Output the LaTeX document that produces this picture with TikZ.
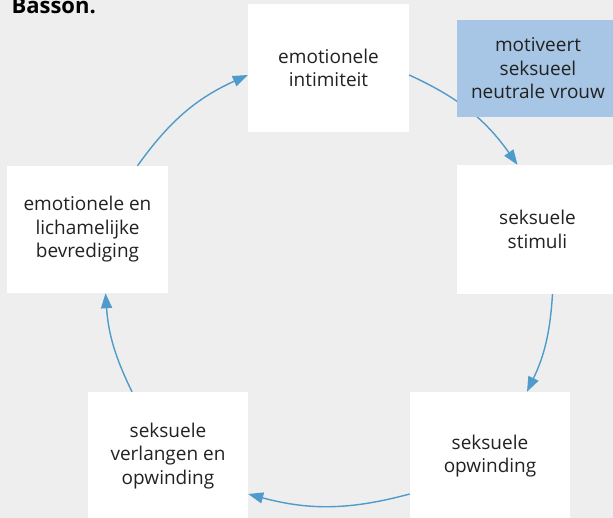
\documentclass[tikz,border=0pt]{standalone}
\usepackage{fontspec}
\setmainfont{Open Sans}
\usetikzlibrary{arrows.meta}
\definecolor{bg}{HTML}{EEEEEE}
\definecolor{arrowblue}{HTML}{4F9BCB}
\definecolor{boxblue}{HTML}{A7C5E4}
\definecolor{txt}{HTML}{222222}
\tikzset{
  box/.style={fill=white, draw=none, align=center, text=txt, inner sep=0pt,
    font=\fontsize{19}{23.5}\selectfont},
  bluebox/.style={box, fill=boxblue},
  arr/.style={draw=arrowblue, line width=1.4pt,
    -{Triangle[length=15pt, width=11pt]}},
}
\begin{document}
\begin{tikzpicture}[x=1pt, y=-1pt]
\useasboundingbox (0,0) rectangle (613,518);
\clip (0,0) rectangle (613,518);
\fill[bg] (0,0) rectangle (613,518);
\node[anchor=base west, text=black, font=\bfseries\fontsize{22}{26}\selectfont] (title) at (8,14) {Basson.};
\node[box, minimum width=161pt, minimum height=128pt] (top) at (328.5,68) {emotionele\\intimiteit};
\node[box, minimum width=161pt, minimum height=129pt] (stim) at (537.5,229.5) {seksuele\\stimuli};
\node[box, minimum width=161pt, minimum height=127pt] (bevr) at (87.5,229.5) {emotionele en\\lichamelijke\\bevrediging};
\node[box, minimum width=160pt, minimum height=128pt] (verl) at (168,456) {seksuele\\verlangen en\\opwinding};
\node[box, minimum width=160pt, minimum height=128pt] (opw) at (490,456) {seksuele\\opwinding};
\draw[arr] ([yshift=-7pt]top.east) to[bend left=15] ([xshift=-20pt]stim.north);
\draw[arr] ([xshift=15pt]stim.south) to[bend left=11] ([xshift=37pt]opw.north);
\draw[arr] ([yshift=-38pt]opw.west) to[bend left=15] ([yshift=-38pt]verl.east);
\draw[arr] ([xshift=-36pt]verl.north) to[bend left=11] ([xshift=18pt]bevr.south);
\draw[arr] ([xshift=50pt]bevr.north) to[bend left=15] ([yshift=-7pt]top.west);
\node[bluebox, minimum width=162pt, minimum height=97pt] (motiv) at (538,68.5) {motiveert\\seksueel\\neutrale vrouw};
\end{tikzpicture}
\end{document}
